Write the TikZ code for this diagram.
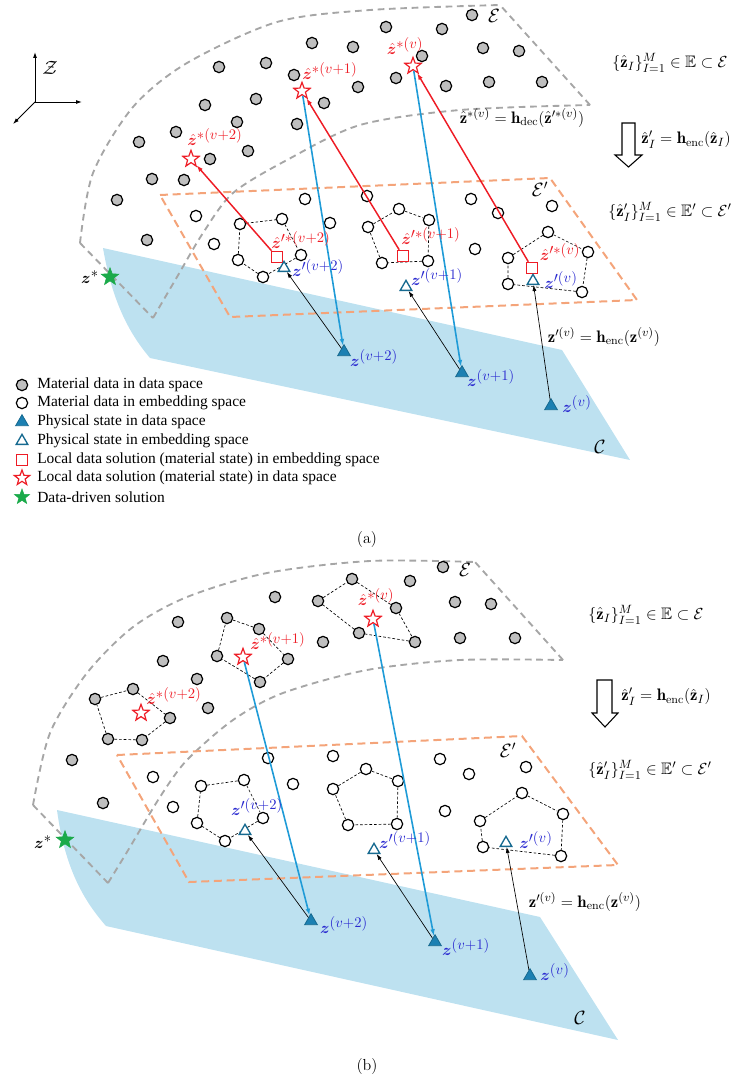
\documentclass[tikz,border=0pt]{standalone}
\usepackage{amsmath,amssymb,bm}
\usepackage{fontspec}
\newfontfamily\legfont{Liberation Serif}
\DeclareMathSizes{13}{13}{10.5}{8}
\usetikzlibrary{shapes.geometric,arrows.meta}
\definecolor{planeblue}{HTML}{BDE1F0}
\definecolor{dgray}{HTML}{A6A6A6}
\definecolor{orng}{HTML}{F4A47A}
\definecolor{lineblue}{HTML}{1F9BD7}
\definecolor{labblue}{HTML}{2B2BD0}
\definecolor{trif}{HTML}{1C80B2}
\definecolor{trid}{HTML}{176A90}
\definecolor{zred}{HTML}{EE1C25}
\definecolor{sgreen}{HTML}{1BAA4A}
\definecolor{dotgray}{HTML}{BFBFBF}
\tikzset{
 gdot/.style={circle,draw=black,fill=dotgray,line width=0.9pt,minimum size=8.5pt,inner sep=0pt},
 wdot/.style={circle,draw=black,fill=white,line width=0.9pt,minimum size=8.5pt,inner sep=0pt},
 rstar/.style={star,star points=5,star point ratio=2.4,draw=zred,fill=white,line width=0.9pt,minimum size=13pt,inner sep=0pt},
 gstar/.style={star,star points=5,star point ratio=2.4,fill=sgreen,draw=sgreen,minimum size=14pt,inner sep=0pt},
 rsq/.style={rectangle,draw=zred,fill=white,line width=0.9pt,minimum size=8.5pt,inner sep=0pt},
 otri/.style={regular polygon,regular polygon sides=3,draw=trid,fill=white,line width=1pt,minimum size=10pt,inner sep=0pt},
 ftri/.style={regular polygon,regular polygon sides=3,draw=trid,fill=trif,line width=0.6pt,minimum size=11pt,inner sep=0pt},
 pent/.style={draw=black,dash pattern=on 2pt off 1.5pt,line width=0.5pt},
 gdash/.style={draw=dgray,line width=1.4pt,dash pattern=on 5pt off 3.5pt},
 odash/.style={draw=orng,line width=1.5pt,dash pattern=on 6pt off 3.5pt},
 redarr/.style={draw=zred,line width=1.1pt,-{Latex[length=5pt,width=3.5pt]}},
 bluarr/.style={draw=lineblue,line width=1.2pt,-{Latex[length=5pt,width=3.5pt]}},
 blkarr/.style={draw=black,line width=0.5pt,-{Latex[length=4.5pt,width=3pt]}},
 rlab/.style={text=zred,font=\fontsize{13}{14}\selectfont,inner sep=0pt},
 blab/.style={text=labblue,font=\fontsize{13}{14}\selectfont,inner sep=0pt},
 klab/.style={text=black,font=\fontsize{13}{14}\selectfont,inner sep=0pt},
 fml/.style={text=black,font=\fontsize{12.5}{14}\selectfont,inner sep=0pt},
 captxt/.style={text=black,font=\fontsize{12}{14}\selectfont,inner sep=0pt},
 sp/.style={text=black,font=\fontsize{14}{16}\selectfont,inner sep=0pt},
 leg/.style={text=black,font=\legfont\fontsize{11.6}{13}\selectfont,inner sep=0pt,anchor=west},
 axs/.style={draw=black,line width=0.7pt,-{Latex[length=4.5pt,width=3pt]}},
}
\begin{document}
\begin{tikzpicture}[x=0.75pt,y=-0.75pt]
\useasboundingbox (0,0) rectangle (734,1081);
% ================= PANEL (a) =================
\fill[planeblue] (103,248) -- (562,350) -- (630,460) -- (150,358) .. controls (128,332) and (112,300) .. (103,248) -- cycle;
\draw[gdash] plot[smooth] coordinates {(80,243) (93,173) (133,107) (187,63) (277,22) (370,10) (500,5)};
\draw[gdash] (80,243) -- (153,318);
\draw[gdash] plot[smooth] coordinates {(153,318) (177,277) (203,233) (233,193) (287,160) (360,125) (460,110) (590,105)};
\draw[gdash] (590,105) -- (500,5);
\draw[odash] (160,195) -- (550,178) -- (637,300) -- (230,317) -- cycle;
% axes
\coordinate (O) at (35,102);
\coordinate (Ax) at (82,102);
\coordinate (Ay) at (35,52);
\coordinate (Az) at (13,124);
\draw[axs] (O) -- (Ax);
\draw[axs] (O) -- (Ay);
\draw[axs] (O) -- (Az);
\node[sp] (lZ) at (50,68) {$\mathcal{Z}$};
% gray dots
\foreach \p [count=\i] in {{312,43},{353,47},{219,67},{266,63},{294,75},{358,87},{205,105},{256,99},{324,103},{176,132},{237,122},{297,124},{139,142},{248,151},{210,159},{152,179},{184,180},{117,200},{147,240},{472,15},{386,27},{442,29},{483,48},{519,51},{422,56},{396,78},{446,86},{489,82},{542,82}}
  \node[gdot] (tg\i) at (\p) {};
% white dots
\foreach \p [count=\i] in {{305,199},{196,216},{330,223},{214,244},{367,196},{471,199},{498,213},{552,206},{475,249}}
  \node[wdot] (tw\i) at (\p) {};
\node[wdot] (ta1) at (240,224) {};
\node[wdot] (ta2) at (282,219) {};
\node[wdot] (ta3) at (301,255) {};
\node[wdot] (ta4) at (263,277) {};
\node[wdot] (ta5) at (238,260) {};
\node[wdot] (tb1) at (368,227) {};
\node[wdot] (tb2) at (399,209) {};
\node[wdot] (tb3) at (429,220) {};
\node[wdot] (tb4) at (428,261) {};
\node[wdot] (tb5) at (382,263) {};
\node[wdot] (tc1) at (508,258) {};
\node[wdot] (tc2) at (548,232) {};
\node[wdot] (tc3) at (588,252) {};
\node[wdot] (tc4) at (582,292) {};
\node[wdot] (tc5) at (508,284) {};
\draw[pent] (ta1) -- (ta2) -- (ta3) -- (ta4) -- (ta5) -- (ta1);
\draw[pent] (tb1) -- (tb2) -- (tb3) -- (tb4) -- (tb5) -- (tb1);
\draw[pent] (tc1) -- (tc2) -- (tc3) -- (tc4) -- (tc5) -- (tc1);
% symbols
\node[rstar] (tsv) at (413,66) {};
\node[rstar] (tsv1) at (302,91) {};
\node[rstar] (tsv2) at (191,159) {};
\node[rsq] (tqv) at (532,268) {};
\node[rsq] (tqv1) at (403,256) {};
\node[rsq] (tqv2) at (277,257) {};
\node[otri] (tov) at (533,281) {};
\node[otri] (tov1) at (406,287) {};
\node[otri] (tov2) at (284,268) {};
\node[ftri] (ttv) at (551,406) {};
\node[ftri] (ttv1) at (462,373) {};
\node[ftri] (ttv2) at (344,352) {};
\node[gstar] (tzs) at (110,277) {};
% connectors
\draw[redarr] (tqv2) -- (tsv2);
\draw[redarr] (tqv1) -- (tsv1);
\draw[redarr] (tqv) -- (tsv);
\draw[bluarr] (tsv1) -- (ttv2);
\draw[bluarr] (tsv) -- (ttv1);
\draw[blkarr] (ttv2) -- (tov2);
\draw[blkarr] (ttv1) -- (tov1);
\draw[blkarr] (ttv) -- (tov);
% labels
\node[rlab] (ltsv) at (405,46) {$\hat{\bm z}^{*(v)}$};
\node[rlab] (ltsv1) at (330,71) {$\hat{\bm z}^{*(v+1)}$};
\node[rlab] (ltsv2) at (215,137) {$\hat{\bm z}^{*(v+2)}$};
\node[rlab] (ltqv2) at (301,240) {$\hat{\bm z}'^{*(v+2)}$};
\node[rlab] (ltqv1) at (431,236) {$\hat{\bm z}'^{*(v+1)}$};
\node[rlab] (ltqv) at (560,252) {$\hat{\bm z}'^{*(v)}$};
\node[blab] (ltov2) at (318,268) {$\bm z'^{(v+2)}$};
\node[blab] (ltov1) at (437,277) {$\bm z'^{(v+1)}$};
\node[blab] (ltov) at (561,280) {$\bm z'^{(v)}$};
\node[blab] (lttv2) at (374,358) {$\bm z^{(v+2)}$};
\node[blab] (lttv1) at (491,378) {$\bm z^{(v+1)}$};
\node[blab] (lttv) at (577,404) {$\bm z^{(v)}$};
\node[klab] (ltzs) at (90,277) {$\bm z^{*}$};
\node[sp] (ltE) at (494,16) {$\mathcal{E}$};
\node[sp] (ltEp) at (540,189) {$\mathcal{E}'$};
\node[sp] (ltC) at (600,447) {$\mathcal{C}$};
% right formulas
\node[fml] (tf1) at (670,63) {$\{\hat{\mathbf z}_I\}_{I=1}^{M}\in\mathbb{E}\subset\mathcal{E}$};
\node[fml] (tf2) at (522,118) {$\hat{\mathbf z}^{*(v)}=\mathbf{h}_{\mathrm{dec}}(\hat{\mathbf z}'^{*(v)})$};
\node[fml] (tf3) at (686,140) {$\hat{\mathbf z}'_I=\mathbf{h}_{\mathrm{enc}}(\hat{\mathbf z}_I)$};
\node[fml] (tf4) at (670,212) {$\{\hat{\mathbf z}'_I\}_{I=1}^{M}\in\mathbb{E}'\subset\mathcal{E}'$};
\node[fml] (tf5) at (604,337) {$\mathbf z'^{(v)}=\mathbf{h}_{\mathrm{enc}}(\mathbf z^{(v)})$};
\draw[line width=0.8pt,fill=white] (622,123) -- (635,123) -- (635,155) -- (642,155) -- (628.5,167) -- (615,155) -- (622,155) -- cycle;
% legend
\node[gdot] (sg) at (22,385) {};
\node[wdot] (sw) at (22,403) {};
\node[ftri] (sf) at (22,422) {};
\node[otri] (so) at (22,441) {};
\node[rsq] (sq) at (22,460) {};
\node[rstar,minimum size=12pt] (ss) at (22,478) {};
\node[gstar,minimum size=12pt] (sz) at (22,497) {};
\node[leg] (l1) at (37,385) {Material data in data space};
\node[leg] (l2) at (37,403) {Material data in embedding space};
\node[leg] (l3) at (37,422) {Physical state in data space};
\node[leg] (l4) at (37,441) {Physical state in embedding space};
\node[leg] (l5) at (37,460) {Local data solution (material state) in embedding space};
\node[leg] (l6) at (37,478) {Local data solution (material state) in data space};
\node[leg] (l7) at (37,497) {Data-driven solution};
\node[captxt] (capa) at (367,540) {(a)};
% ================= PANEL (b) =================
\fill[planeblue] (57,810) -- (540,917) -- (618,1040) -- (106,926) .. controls (85,902) and (65,870) .. (57,810) -- cycle;
\draw[gdash] plot[smooth] coordinates {(33,805) (50,733) (87,673) (133,627) (187,597) (267,573) (370,561) (475,562)};
\draw[gdash] (33,805) -- (108,883);
\draw[gdash] plot[smooth] coordinates {(108,883) (127,852) (160,797) (187,760) (233,720) (283,693) (367,670) (460,660) (563,660)};
\draw[gdash] (563,660) -- (475,562);
\draw[odash] (117,755) -- (522,736) -- (618,865) -- (189,882) -- cycle;
\foreach \p [count=\i] in {{443,567},{410,581},{455,602},{491,604},{460,638},{515,638},{275,597},{178,622},{323,642},{163,661},{197,679},{208,708},{72,760},{103,803}}
  \node[gdot] (bg\i) at (\p) {};
\node[gdot] (pv1) at (318,601) {};
\node[gdot] (pv2) at (352,579) {};
\node[gdot] (pv3) at (396,608) {};
\node[gdot] (pv4) at (415,642) {};
\node[gdot] (pv5) at (359,633) {};
\node[gdot] (pp1) at (227,618) {};
\node[gdot] (pp2) at (259,629) {};
\node[gdot] (pp3) at (288,659) {};
\node[gdot] (pp4) at (260,682) {};
\node[gdot] (pp5) at (217,656) {};
\node[gdot] (pq1) at (95,699) {};
\node[gdot] (pq2) at (133,689) {};
\node[gdot] (pq3) at (170,718) {};
\node[gdot] (pq4) at (142,740) {};
\node[gdot] (pq5) at (108,739) {};
\draw[pent] (pv1) -- (pv2) -- (pv3) -- (pv4) -- (pv5) -- (pv1);
\draw[pent] (pp1) -- (pp2) -- (pp3) -- (pp4) -- (pp5) -- (pp1);
\draw[pent] (pq1) -- (pq2) -- (pq3) -- (pq4) -- (pq5) -- (pq1);
\foreach \p [count=\i] in {{268,758},{333,756},{153,777},{293,784},{173,807},{440,759},{469,774},{526,767},{445,811}}
  \node[wdot] (bw\i) at (\p) {};
\node[wdot] (ba1) at (201,786) {};
\node[wdot] (ba2) at (244,780) {};
\node[wdot] (ba3) at (263,818) {};
\node[wdot] (ba4) at (225,841) {};
\node[wdot] (ba5) at (197,823) {};
\node[wdot] (bb1) at (366,769) {};
\node[wdot] (bb2) at (398,781) {};
\node[wdot] (bb3) at (397,824) {};
\node[wdot] (bb4) at (348,825) {};
\node[wdot] (bb5) at (333,789) {};
\node[wdot] (bc1) at (480,821) {};
\node[wdot] (bc2) at (522,793) {};
\node[wdot] (bc3) at (563,814) {};
\node[wdot] (bc4) at (561,856) {};
\node[wdot] (bc5) at (483,847) {};
\draw[pent] (ba1) -- (ba2) -- (ba3) -- (ba4) -- (ba5) -- (ba1);
\draw[pent] (bb1) -- (bb2) -- (bb3) -- (bb4) -- (bb5) -- (bb1);
\draw[pent] (bc1) -- (bc2) -- (bc3) -- (bc4) -- (bc5) -- (bc1);
\node[rstar] (bsv) at (373,619) {};
\node[rstar] (bsv1) at (243,657) {};
\node[rstar] (bsv2) at (141,713) {};
\node[otri] (bov) at (506,843) {};
\node[otri] (bov1) at (374,850) {};
\node[otri] (bov2) at (245,831) {};
\node[ftri] (btv) at (530,976) {};
\node[ftri] (btv1) at (435,942) {};
\node[ftri] (btv2) at (311,921) {};
\node[gstar] (bzs) at (65,840) {};
\draw[bluarr] (bsv1) -- (btv2);
\draw[bluarr] (bsv) -- (btv1);
\draw[blkarr] (btv2) -- (bov2);
\draw[blkarr] (btv1) -- (bov1);
\draw[blkarr] (btv) -- (bov);
\node[rlab] (lbsv) at (376,597) {$\hat{\bm z}^{*(v)}$};
\node[rlab] (lbsv1) at (278,641) {$\hat{\bm z}^{*(v+1)}$};
\node[rlab] (lbsv2) at (174,696) {$\hat{\bm z}^{*(v+2)}$};
\node[blab] (lbov2) at (257,807) {$\bm z'^{(v+2)}$};
\node[blab] (lbov1) at (405,840) {$\bm z'^{(v+1)}$};
\node[blab] (lbov) at (536,840) {$\bm z'^{(v)}$};
\node[blab] (lbtv2) at (344,925) {$\bm z^{(v+2)}$};
\node[blab] (lbtv1) at (466,947) {$\bm z^{(v+1)}$};
\node[blab] (lbtv) at (555,972) {$\bm z^{(v)}$};
\node[klab] (lbzs) at (43,842) {$\bm z^{*}$};
\node[sp] (lbE) at (465,570) {$\mathcal{E}$};
\node[sp] (lbEp) at (508,750) {$\mathcal{E}'$};
\node[sp] (lbC) at (580,1018) {$\mathcal{C}$};
\node[fml] (bf1) at (646,615) {$\{\hat{\mathbf z}_I\}_{I=1}^{M}\in\mathbb{E}\subset\mathcal{E}$};
\node[fml] (bf3) at (666,697) {$\hat{\mathbf z}'_I=\mathbf{h}_{\mathrm{enc}}(\hat{\mathbf z}_I)$};
\node[fml] (bf4) at (650,770) {$\{\hat{\mathbf z}'_I\}_{I=1}^{M}\in\mathbb{E}'\subset\mathcal{E}'$};
\node[fml] (bf5) at (585,902) {$\mathbf z'^{(v)}=\mathbf{h}_{\mathrm{enc}}(\mathbf z^{(v)})$};
\draw[line width=0.8pt,fill=white] (597,680) -- (612,680) -- (612,713) -- (618,713) -- (605,727) -- (592,713) -- (597,713) -- cycle;
\node[captxt] (capb) at (367,1066) {(b)};
\end{tikzpicture}
\end{document}
